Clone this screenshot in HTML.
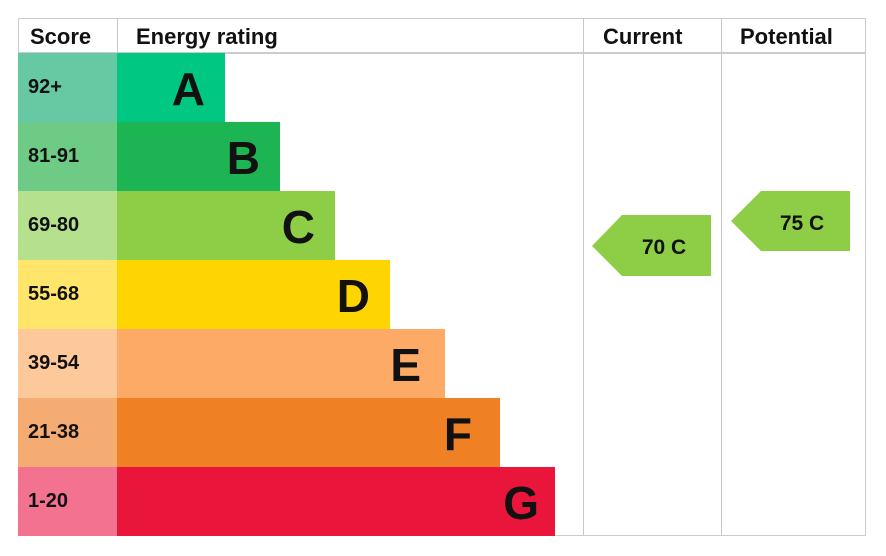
<!DOCTYPE html>
<html><head><style>
body{margin:0;width:886px;height:556px;background:#fff;position:relative;overflow:hidden;font-family:"Liberation Sans",Arial,sans-serif;font-weight:bold;color:#111}
div{position:absolute;box-sizing:border-box}
.h{top:18px;height:35px;font-size:22px;line-height:37px}
.s{left:18px;width:99px;height:69px;font-size:20px;line-height:69px;padding-left:10px}
.b{left:117px;height:69px;font-size:46px;line-height:72px;text-align:right;padding-right:12px}
.v{top:18px;width:1px;height:517px;background:#c8c8c8}
</style></head><body>
<div style="left:18px;top:18px;width:848px;height:518px;border:1px solid #ccc"></div>
<div style="left:18px;top:52px;width:848px;height:2px;background:#ccc"></div>
<div class="v" style="left:117px;height:35px"></div>
<div class="v" style="left:583px"></div>
<div class="v" style="left:721px"></div>
<div class="h" style="left:30px">Score</div>
<div class="h" style="left:136px">Energy rating</div>
<div class="h" style="left:603px">Current</div>
<div class="h" style="left:740px">Potential</div>

<div class="s" style="top:53px;background:#66c9a3">92+</div>
<div class="b" style="top:53px;width:108px;background:#00c781;padding-right:20px">A</div>
<div class="s" style="top:122px;background:#6ecb86">81-91</div>
<div class="b" style="top:122px;width:163px;background:#1db454;padding-right:20px">B</div>
<div class="s" style="top:191px;background:#b5e08e">69-80</div>
<div class="b" style="top:191px;width:218px;background:#8dce46;padding-right:20px">C</div>
<div class="s" style="top:260px;background:#ffe56a">55-68</div>
<div class="b" style="top:260px;width:273px;background:#ffd500;padding-right:20px">D</div>
<div class="s" style="top:329px;background:#fdc99a">39-54</div>
<div class="b" style="top:329px;width:328px;background:#fcaa65;padding-right:24px">E</div>
<div class="s" style="top:398px;background:#f5ac72">21-38</div>
<div class="b" style="top:398px;width:383px;background:#ef8023;padding-right:28px">F</div>
<div class="s" style="top:467px;background:#f27290">1-20</div>
<div class="b" style="top:467px;width:438px;background:#e9153b;padding-right:16px">G</div>

<svg style="position:absolute;left:0;top:0" width="886" height="556">
<polygon points="592,246 622,215 711,215 711,276 622,276" fill="#8dce46"/>
<polygon points="731,221 761,191 850,191 850,251 761,251" fill="#8dce46"/>
<text x="664" y="254" font-family="Liberation Sans,Arial,sans-serif" font-weight="bold" font-size="21" text-anchor="middle" fill="#111">70 C</text>
<text x="802" y="230" font-family="Liberation Sans,Arial,sans-serif" font-weight="bold" font-size="21" text-anchor="middle" fill="#111">75 C</text>
</svg>
</body></html>
